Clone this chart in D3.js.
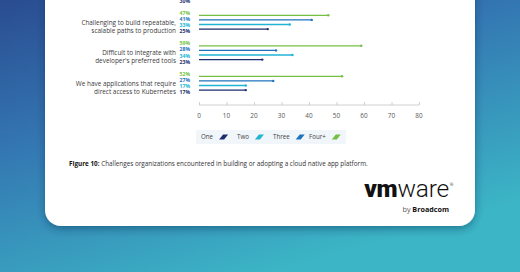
<!DOCTYPE html>
<html>
<head>
<meta charset="utf-8">
<script src="https://cdn.jsdelivr.net/npm/d3@7"></script>
<style>
  html, body { margin: 0; padding: 0; overflow: hidden; }
  svg { display: block; font-family: "Open Sans", "Noto Sans", sans-serif; }
</style>
</head>
<body>
<svg id="chart" width="520" height="272"></svg>
<script>
// categories (first one is cut off at the top of the picture)
const categories = [
  "",
  "Challenging to build repeatable,\nscalable paths to production",
  "Difficult to integrate with\ndeveloper's preferred tools",
  "We have applications that require\ndirect access to Kubernetes"
];
// series in the order they are drawn inside each group (top to bottom)
const series = ["Four+", "Three", "Two", "One"];
const fourPlus = [null, 47, 59, 52];
const three = [null, 41, 28, 27];
const two = [null, 33, 34, 17];
const one = [30, 25, 23, 17];
const legendKeys = ["One", "Two", "Three", "Four+"];
const xTicks = [0, 10, 20, 30, 40, 50, 60, 70, 80];

const colors = { "One": "#1c2d6e", "Two": "#22b4d4", "Three": "#1f72bd", "Four+": "#76bf45" };
const values = { "Four+": fourPlus, "Three": three, "Two": two, "One": one };

const svg = d3.select("#chart");
const defs = svg.append("defs");

// background gradient
const bg = defs.append("linearGradient").attr("id", "bg")
  .attr("x1", "0").attr("y1", "0").attr("x2", "0.55").attr("y2", "1");
bg.append("stop").attr("offset", "0").attr("stop-color", "#2a4c91");
bg.append("stop").attr("offset", "0.45").attr("stop-color", "#3479b3");
bg.append("stop").attr("offset", "1").attr("stop-color", "#3cb6c6");
svg.append("rect").attr("width", 520).attr("height", 272).attr("fill", "url(#bg)");

const shadow = defs.append("filter").attr("id", "shadow")
  .attr("x", "-10%").attr("y", "-10%").attr("width", "120%").attr("height", "130%");
shadow.append("feDropShadow").attr("dx", 0).attr("dy", 3).attr("stdDeviation", 4)
  .attr("flood-color", "#0c2a55").attr("flood-opacity", 0.45);

// white card
svg.append("rect")
  .attr("x", 45).attr("y", -40).attr("width", 430).attr("height", 266)
  .attr("rx", 16).attr("fill", "#ffffff").attr("filter", "url(#shadow)");

// scales
const x = d3.scaleLinear().domain([0, 80]).range([199, 419]);
const y = d3.scaleBand().domain(categories).range([-23.5, 98.5]);
const yBar = d3.scalePoint().domain(series).range([8.3, 22.1]);
const yLab = d3.scalePoint().domain(series).range([6, 24.4]);

const groups = svg.append("g").selectAll("g")
  .data(categories)
  .join("g")
  .attr("transform", d => `translate(0,${y(d)})`);

// category labels
groups.append("text")
  .attr("text-anchor", "end")
  .attr("font-size", 6.4)
  .attr("fill", "#3a3a3a")
  .selectAll("tspan")
  .data(d => d.split("\n").filter(s => s))
  .join("tspan")
  .attr("x", 176)
  .attr("y", (d, i) => 17.5 + i * 8.3)
  .text(d => d);

// bars as thin lines with a dot on the end
groups.each(function (cat, ci) {
  const g = d3.select(this);
  series.forEach(s => {
    const v = values[s][ci];
    if (v == null) return;
    g.append("line")
      .attr("x1", x(0)).attr("x2", x(v))
      .attr("y1", yBar(s)).attr("y2", yBar(s))
      .attr("stroke", colors[s]).attr("stroke-width", 1.3);
    g.append("circle")
      .attr("cx", x(v)).attr("cy", yBar(s)).attr("r", 1.2)
      .attr("fill", colors[s]);
    g.append("text")
      .attr("x", 190).attr("y", yLab(s))
      .attr("dy", "0.35em")
      .attr("text-anchor", "end")
      .attr("font-size", 5.1).attr("font-weight", 700)
      .attr("fill", colors[s])
      .text(v + "%");
  });
});

// x axis
const axis = svg.append("g")
  .attr("transform", "translate(0,105)")
  .call(d3.axisTop(x).tickValues(xTicks).tickSize(3).tickFormat(""));
axis.selectAll("path, line").attr("stroke", "#c4c4c4").attr("stroke-width", 0.8);
axis.select(".domain").attr("d", `M${x(0)},0H${x(80)}`);
svg.append("g").selectAll("text")
  .data(xTicks)
  .join("text")
  .attr("x", d => x(d)).attr("y", 117.5)
  .attr("text-anchor", "middle")
  .attr("font-size", 6.4).attr("fill", "#555")
  .text(d => d);

// legend
const legend = svg.append("g");
legend.append("rect")
  .attr("x", 196).attr("y", 130).attr("width", 150).attr("height", 14)
  .attr("fill", "#f1f6fa");
const legendX = d3.scalePoint().domain(legendKeys).range([201, 309]);
const items = legend.selectAll("g")
  .data(legendKeys)
  .join("g")
  .attr("transform", d => `translate(${legendX(d)},137)`);
items.append("text")
  .attr("dy", "0.35em")
  .attr("font-size", 6.2).attr("fill", "#444")
  .text(d => d);
items.each(function (d) {
  const w = this.querySelector("text").getComputedTextLength();
  d3.select(this).append("path")
    .attr("d", `M${w + 6},2.6 L${w + 10},-2.6 L${w + 15},-2.6 L${w + 11},2.6 Z`)
    .attr("fill", colors[d]);
});

// caption
const cap = svg.append("text")
  .attr("x", 69).attr("y", 166)
  .attr("font-size", 6.35).attr("fill", "#333");
cap.append("tspan").attr("font-weight", 700).attr("fill", "#111").text("Figure 10:");
cap.append("tspan").text(" Challenges organizations encountered in building or adopting a cloud native app platform.");

// vmware by Broadcom logo
const logo = svg.append("text")
  .attr("x", 449).attr("y", 197)
  .attr("text-anchor", "end")
  .attr("font-family", "Roboto, 'Open Sans', sans-serif")
  .attr("font-size", 24.5).attr("fill", "#111")
  .attr("letter-spacing", -0.2);
logo.append("tspan").attr("font-weight", 900).text("vm");
logo.append("tspan").attr("font-weight", 300).text("ware");
svg.append("text")
  .attr("x", 450).attr("y", 186)
  .attr("font-size", 4).attr("fill", "#111").text("®");
const by = svg.append("text")
  .attr("x", 449).attr("y", 211.5)
  .attr("text-anchor", "end")
  .attr("font-size", 7.2).attr("fill", "#111");
by.append("tspan").attr("fill", "#555").text("by ");
by.append("tspan").attr("font-weight", 700).text("Broadcom");
</script>
</body>
</html>
